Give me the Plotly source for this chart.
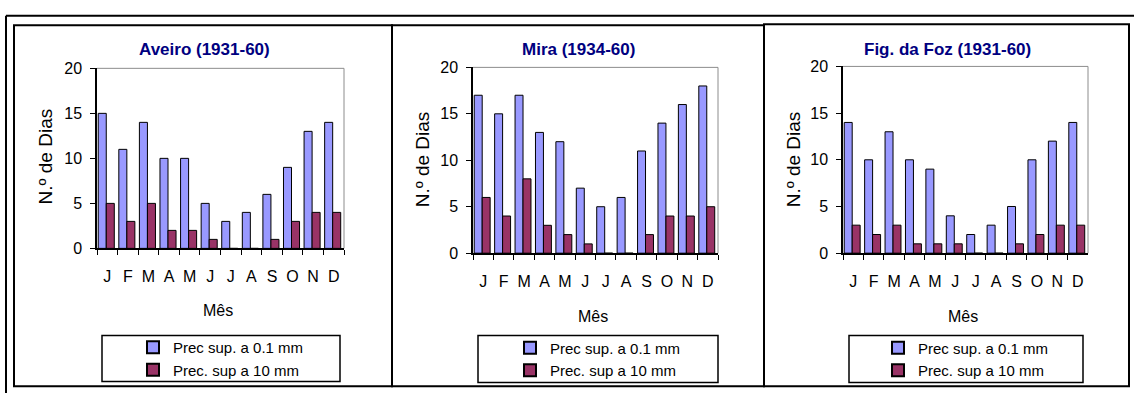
import plotly.graph_objects as go

W, H = 1134, 402

months = ["J", "F", "M", "A", "M ", "J ", "J  ", "A ", "S", "O", "N", "D"]
month_text = ["J", "F", "M", "A", "M", "J", "J", "A", "S", "O", "N", "D"]

titles = ["Aveiro (1931-60)", "Mira (1934-60)", "Fig. da Foz (1931-60)"]
series_names = ["Prec sup. a 0.1 mm", "Prec. sup a 10 mm"]

aveiro_01 = [15, 11, 14, 10, 10, 5, 3, 4, 6, 9, 13, 14]
aveiro_10 = [5, 3, 5, 2, 2, 1, 0, 0, 1, 3, 4, 4]
mira_01 = [17, 15, 17, 13, 12, 7, 5, 6, 11, 14, 16, 18]
mira_10 = [6, 4, 8, 3, 2, 1, 0, 0, 2, 4, 4, 5]
foz_01 = [14, 10, 13, 10, 9, 4, 2, 3, 5, 10, 12, 14]
foz_10 = [3, 2, 3, 1, 1, 1, 0, 0, 1, 2, 3, 3]

y_ticks = [0, 5, 10, 15, 20]

data_sets = [(aveiro_01, aveiro_10), (mira_01, mira_10), (foz_01, foz_10)]

BLUE = "#9999FF"
MAROON = "#993366"
FONT = "Liberation Sans, Arial, sans-serif"


def px(x):
    return x / W


def py(y):
    return 1 - y / H


# plot areas in pixels: (left, top, right, bottom)
plot_boxes = [(97, 63, 344, 251), (473, 62, 718, 256), (843, 61, 1088, 256)]
panel_boxes = [(14, 18, 392, 395), (392, 18, 764, 395), (764, 17, 1129, 395)]
legend_boxes = [(102, 342, 340, 390), (478, 342, 718, 391), (849, 342, 1083, 391)]
title_pos = [(204, 43), (578, 43), (947, 43)]
xtitle_pos = [(218, 316), (593, 322), (963, 322)]
ytitle_pos = [(45, 155), (422, 158), (793, 158)]

fig = go.Figure()
layout = dict(
    width=W, height=H,
    margin=dict(l=0, r=0, t=0, b=0),
    paper_bgcolor="white", plot_bgcolor="white",
    barmode="overlay",
    font=dict(family=FONT, size=16, color="black"),
    shapes=[], annotations=[],
)

for i, ((v01, v10), box) in enumerate(zip(data_sets, plot_boxes)):
    sfx = "" if i == 0 else str(i + 1)
    xa, ya = "x" + sfx, "y" + sfx
    leg = "legend" + sfx
    fig.add_trace(go.Bar(
        x=months, y=v01, name=series_names[0], xaxis=xa, yaxis=ya,
        marker=dict(color=BLUE, line=dict(color="black", width=1)),
        width=0.39, offset=-0.44, legend=leg,
    ))
    fig.add_trace(go.Bar(
        x=months, y=v10, name=series_names[1], xaxis=xa, yaxis=ya,
        marker=dict(color=MAROON, line=dict(color="black", width=1)),
        width=0.39, offset=-0.05, legend=leg,
    ))
    l, t, r, b = box
    layout["xaxis" + sfx] = dict(
        domain=[px(l), px(r)], anchor=ya,
        tickmode="array", tickvals=months, ticktext=month_text, tickangle=0,
        tickson="boundaries", ticks="outside", ticklen=5, tickcolor="black",
        showline=True, linecolor="black", linewidth=1.5,
        showgrid=False, zeroline=False, fixedrange=True,
        ticklabelstandoff=13, tickfont=dict(size=16),
    )
    layout["yaxis" + sfx] = dict(
        domain=[py(b), py(t)], anchor=xa, range=[0, 20],
        tickmode="array", tickvals=y_ticks,
        ticks="outside", ticklen=5, tickcolor="black",
        showline=True, linecolor="black", linewidth=1.5,
        showgrid=False, zeroline=False, fixedrange=True,
        ticklabelstandoff=5, tickfont=dict(size=16),
    )
    # gray top and right border of plot area
    layout["shapes"].append(dict(type="line", xref="paper", yref="paper",
                                 x0=px(l), x1=px(r), y0=py(t), y1=py(t),
                                 line=dict(color="#8c8c8c", width=1), layer="below"))
    layout["shapes"].append(dict(type="line", xref="paper", yref="paper",
                                 x0=px(r), x1=px(r), y0=py(t), y1=py(b),
                                 line=dict(color="#8c8c8c", width=1), layer="below"))
    # panel frame
    pl, pt, pr, pb = panel_boxes[i]
    layout["shapes"].append(dict(type="rect", xref="paper", yref="paper",
                                 x0=px(pl), x1=px(pr), y0=py(pb), y1=py(pt),
                                 line=dict(color="black", width=2)))
    # legend frame
    ll, lt, lr, lb = legend_boxes[i]
    layout["shapes"].append(dict(type="rect", xref="paper", yref="paper",
                                 x0=px(ll), x1=px(lr), y0=py(lb), y1=py(lt),
                                 line=dict(color="black", width=1.5)))
    layout[leg] = dict(
        x=px((ll + lr) / 2), y=py((lt + lb) / 2),
        xanchor="center", yanchor="middle",
        bgcolor="rgba(0,0,0,0)", borderwidth=0,
        font=dict(size=15), tracegroupgap=0, itemsizing="constant",
        itemwidth=30,
    )
    tx, ty = title_pos[i]
    layout["annotations"].append(dict(
        text="<b>" + titles[i] + "</b>", x=px(tx), y=py(ty), xref="paper", yref="paper",
        showarrow=False, xanchor="center", yanchor="middle",
        font=dict(size=17, color="#000080", family=FONT)))
    mx, my = xtitle_pos[i]
    layout["annotations"].append(dict(
        text="Mês", x=px(mx), y=py(my), xref="paper", yref="paper",
        showarrow=False, xanchor="center", yanchor="middle", font=dict(size=16)))
    yx, yy = ytitle_pos[i]
    layout["annotations"].append(dict(
        text="N.º de Dias", x=px(yx), y=py(yy), xref="paper", yref="paper",
        showarrow=False, xanchor="center", yanchor="middle", textangle=-90,
        font=dict(size=19)))

# outer frame lines
layout["shapes"].append(dict(type="line", xref="paper", yref="paper",
                             x0=px(6), x1=1, y0=py(8), y1=py(8),
                             line=dict(color="black", width=2)))
layout["shapes"].append(dict(type="line", xref="paper", yref="paper",
                             x0=px(6), x1=px(6), y0=py(8), y1=0,
                             line=dict(color="black", width=2)))

fig.update_layout(**layout)
fig.write_html("out.html")
